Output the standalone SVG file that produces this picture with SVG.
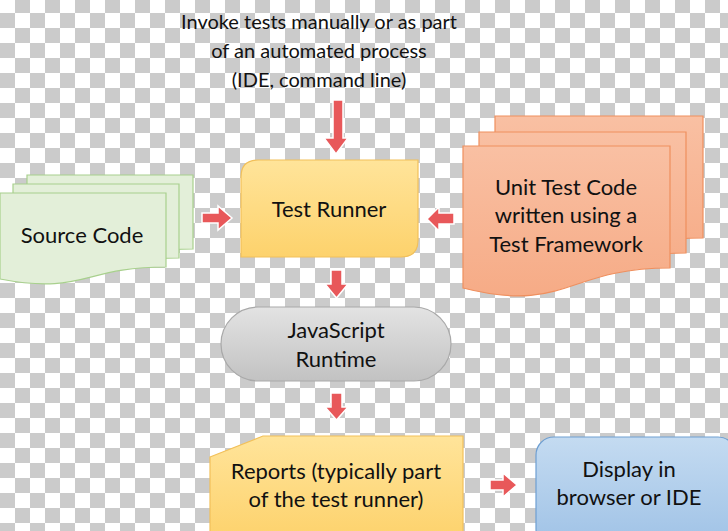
<svg xmlns="http://www.w3.org/2000/svg" width="728" height="531" viewBox="0 0 728 531">
<defs>
<pattern id="checker" x="0" y="-2" width="30" height="30" patternUnits="userSpaceOnUse">
<rect width="30" height="30" fill="#ffffff"/>
<rect x="15" y="0" width="15" height="15" fill="#cbcbcb"/>
<rect x="0" y="15" width="15" height="15" fill="#cbcbcb"/>
</pattern>
<linearGradient id="gOrange" x1="0" y1="0" x2="0" y2="1">
<stop offset="0" stop-color="#ffe49a"/>
<stop offset="1" stop-color="#fdd26c"/>
</linearGradient>
<linearGradient id="gGray" x1="0" y1="0" x2="0" y2="1">
<stop offset="0" stop-color="#e3e3e3"/>
<stop offset="1" stop-color="#c2c2c2"/>
</linearGradient>
<linearGradient id="gBlue" x1="0" y1="0" x2="0" y2="1">
<stop offset="0" stop-color="#c4dbf1"/>
<stop offset="1" stop-color="#9fc2e6"/>
</linearGradient>
<linearGradient id="gSalmon" x1="0" y1="0" x2="0" y2="1">
<stop offset="0" stop-color="#f9c0a3"/>
<stop offset="1" stop-color="#f6ab86"/>
</linearGradient>
<style>
.t{font-family:Lato,"Liberation Sans",sans-serif;font-size:20px;fill:#111111;text-anchor:middle}
.n{font-size:22px}
.green{fill:#e3efd9;stroke:#a8d08d;stroke-width:1.2}
.salmon{fill:url(#gSalmon);stroke:#ef8f5e;stroke-width:1.2}
.arrow{fill:#e8585a;stroke:#ffffff;stroke-width:1.5;stroke-linejoin:miter}
</style>
</defs>
<rect width="728" height="531" fill="url(#checker)"/>

<g id="title">
<text class="t" x="319" y="29">Invoke tests manually or as part</text>
<text class="t" x="319" y="58">of an automated process</text>
<text class="t" x="319" y="87">(IDE, command line)</text>
</g>

<g id="source-code">
<path class="green" d="M27,175 H193 V249 C110,249 110,277 27,261 Z"/>
<path class="green" d="M13,184 H179 V258 C96,258 96,286 13,270 Z"/>
<path class="green" d="M0,193 H166 V267 C83,267 83,295 0,279 Z"/>
<text class="t n" x="82" y="243">Source Code</text>
</g>

<g id="test-runner">
<path d="M258,160 H418 V240 Q418,257 401,257 H241 V177 Q241,160 258,160 Z" fill="url(#gOrange)" stroke="#f2c05a" stroke-width="1.2"/>
<text class="t n" x="329" y="217">Test Runner</text>
</g>

<g id="unit-test-code">
<path class="salmon" d="M495,116 H703 V238 C599,238 599,283 495,257 Z"/>
<path class="salmon" d="M479,132 H686 V253 C582,253 582,299 479,273 Z"/>
<path class="salmon" d="M463,146 H670 V268 C566,268 566,314 463,288 Z"/>
<text class="t n" x="566" y="195">Unit Test Code</text>
<text class="t n" x="566" y="223">written using a</text>
<text class="t n" x="566" y="252">Test Framework</text>
</g>

<g id="js-runtime">
<rect x="221" y="307" width="230" height="74" rx="37" ry="37" fill="url(#gGray)" stroke="#a9a9a9" stroke-width="1.2"/>
<text class="t n" x="336" y="338">JavaScript</text>
<text class="t n" x="336" y="367">Runtime</text>
</g>

<g id="reports">
<path d="M210,457 L263,436 H463 V540 H210 Z" fill="url(#gOrange)" stroke="#f2c05a" stroke-width="1.2"/>
<text class="t n" x="336" y="479">Reports (typically part</text>
<text class="t n" x="336" y="507">of the test runner)</text>
</g>

<g id="display">
<rect x="536" y="437" width="200" height="110" rx="18" ry="18" fill="url(#gBlue)" stroke="#6e9fd2" stroke-width="1.2"/>
<text class="t n" x="629" y="477">Display in</text>
<text class="t n" x="629" y="505">browser or IDE</text>
</g>

<g id="connectors">
<path class="arrow" d="M333,100 H343 V138 H348 L336,154 L324,138 H333 Z"/>
<path class="arrow" d="M202,213 H218 V206 L232,218 L218,230 V223 H202 Z"/>
<path class="arrow" d="M454,213 H439 V207 L427,219 L439,231 V224 H454 Z"/>
<path class="arrow" d="M331,270 H342 V284 H348 L336.5,298 L325,284 H331 Z"/>
<path class="arrow" d="M331,393 H342 V407 H348 L336.5,420 L325,407 H331 Z"/>
<path class="arrow" d="M490,480 H503 V473 L517,485 L503,497 V490 H490 Z"/>
</g>
</svg>
